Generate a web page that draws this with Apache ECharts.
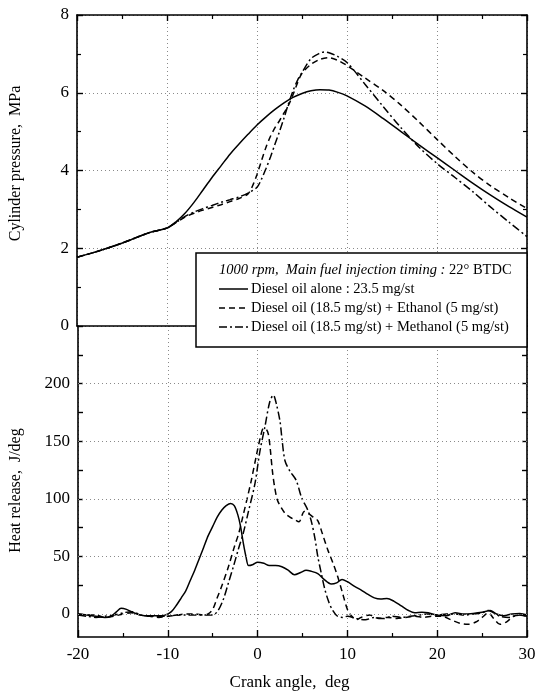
<!DOCTYPE html>
<html>
<head>
<meta charset="utf-8">
<script src="https://cdn.jsdelivr.net/npm/echarts@6/dist/echarts.min.js"></script>
<style>html,body{margin:0;padding:0;background:#fff;}#c{width:541px;height:693px;}</style>
</head>
<body>
<div id="c"></div>
<script>
// ---- Data (crank angle in deg) ----
const pressureDieselDeg = [-20,-18,-16,-14,-12,-10,-9,-8,-7,-6,-5,-4,-3,-2,-1,0,1,2,3,4,5,6,7,8,9,10,12,14,16,18,20,22,24,26,28,30];
const pressureDiesel    = [1.77,1.9,2.05,2.22,2.4,2.52,2.68,2.9,3.18,3.5,3.82,4.12,4.42,4.68,4.93,5.17,5.38,5.57,5.74,5.88,5.98,6.05,6.08,6.07,6.01,5.92,5.66,5.34,5.0,4.66,4.33,4.0,3.67,3.36,3.07,2.8];

const pressureEthanolDeg = [-20,-18,-16,-14,-12,-10,-9,-8,-7,-6,-5,-4,-3,-2,-1,-0.5,0,0.5,1,1.5,2,2.5,3,3.5,4,4.5,5,6,7,8,9,10,12,14,16,18,20,22,24,26,28,30];
const pressureEthanol    = [1.77,1.9,2.05,2.22,2.4,2.52,2.66,2.8,2.9,2.98,3.05,3.12,3.2,3.28,3.4,3.6,3.9,4.25,4.6,4.88,5.1,5.28,5.48,5.68,5.95,6.25,6.5,6.73,6.86,6.9,6.83,6.7,6.38,6.06,5.68,5.25,4.8,4.36,3.95,3.6,3.3,3.02];

const pressureMethanolDeg = [-20,-18,-16,-14,-12,-10,-9,-8,-7,-6,-5,-4,-3,-2,-1,0,0.5,1,1.5,2,2.5,3,3.5,4,4.5,5,6,7,7.5,8,9,10,12,14,16,18,20,22,24,26,28,30];
const pressureMethanol    = [1.77,1.9,2.05,2.22,2.4,2.52,2.66,2.82,2.93,3.02,3.1,3.18,3.25,3.32,3.42,3.57,3.78,4.05,4.35,4.68,5.0,5.35,5.72,6.05,6.32,6.52,6.88,7.02,7.05,7.03,6.93,6.78,6.22,5.65,5.1,4.6,4.18,3.82,3.45,3.05,2.67,2.3];

const heatDieselDeg = [-20,-19,-18,-17,-16.3,-15.7,-15.2,-14.6,-13.8,-13,-12,-11,-10.3,-9.6,-9,-8.5,-8,-7.5,-7,-6.5,-6,-5.5,-5,-4.5,-4,-3.5,-3,-2.6,-2.2,-1.9,-1.6,-1.3,-1,-0.5,0,0.7,1.3,2,2.7,3.4,4.1,4.8,5.4,6,6.7,7.4,8.2,8.8,9.4,10,10.8,11.5,12.3,13,13.7,14.4,15.2,16,16.8,17.5,18.3,19,20,21,22,23,24,25,25.9,26.6,27.4,28.3,29.2,30];
const heatDiesel    = [0,-1,-2,-3,-2,2,5,4,1,-1,-1.5,-1.5,-1,2,8,14,20,29,38,48,58,68,76,84,90,94,96,94,86,76,62,50,42,43,45,44,42,42,41,38,34,36,38,37,35,30,26,27,30,28,24,21,17,14,13,13.5,11,7,3,1,1.5,1,-1,-1.5,1,0,0.5,1.5,3,0,-1.5,0,0.5,-1];

const heatEthanolDeg = [-20,-19,-18,-17,-16,-15,-14,-13,-12,-11,-10,-9,-8,-7,-6,-5.5,-5,-4.5,-4,-3.25,-2.6,-2.1,-1.6,-1.2,-0.7,-0.1,0.3,0.65,1.0,1.2,1.4,1.65,1.9,2.2,2.65,3.1,3.6,4.1,4.6,5.2,5.7,6.2,6.7,7.2,7.8,8.4,8.9,9.5,10,10.5,11,11.5,12.5,13.5,14.5,15.5,16.5,17.5,18.5,19.5,20.5,21.5,22.5,23.4,24.3,25,25.7,26.3,27,27.7,28.5,29.3,30];
const heatEthanol    = [0,-1,-1,-3,-2,0,1,-1,-2,-3,-2,-1,0,0,-1,0,4,14,24,41,58,70,86,99,116,139,153,161,160,156,144,124,110,99,92,87,84,82,80,89,87,84,81,70,56,44,33,17,4,-2,-5,-3,-1,-4,-3,-4,-3,-2,-3,-2,-2,-5,-8,-9,-7,-3,1,-4,-9,-7,-2,-1,-2];

const heatMethanolDeg = [-20,-19,-18,-17,-16,-15,-14,-13,-12,-11,-10,-9,-8,-7,-6,-5,-4.4,-3.8,-3.25,-2.7,-2.15,-1.6,-1.05,-0.3,0.25,0.8,1.35,1.75,2.1,2.5,2.7,3.05,3.6,4.3,4.9,5.6,6.0,6.4,6.7,7.1,7.5,7.9,8.3,8.9,9.5,10,11,12,13,14,15,16,17,18,19,20,21,22,23,24,25,25.7,26.3,27,28,29,30];
const heatMethanol    = [-1,-2,-3,-2,-1,1,2,-1,-2,-2,-2,-1,-1,-1,-1,-1,3,13,27,41,56,70,88,113,141,162,184,190,182,167,153,133,124,116,101,90,80,65,50,35,21,11,4,-2,-3,-2,-4,-5,-3,-4,-2,-3,-2,-1,0,-1,0,0,-1,0,1,3,1,-2,-3,-1,-2];

const pressureTicks = [0, 2, 4, 6, 8];
const heatLabels = [0, 50, 100, 150, 200];
const heatTicks = [0, 25, 50, 75, 100, 125, 150, 175, 200, 225];
const angleTicks = [-20, -10, 0, 10, 20, 30];

const legendTitle = '1000 rpm,  Main fuel injection timing : ';
const legendTitle2 = '22° BTDC';
const seriesNames = ['Diesel oil alone : 23.5 mg/st', 'Diesel oil (18.5 mg/st) + Ethanol (5 mg/st)', 'Diesel oil (18.5 mg/st) + Methanol (5 mg/st)'];

// ---- Styles ----
const FONT = "'Liberation Serif', 'Times New Roman', serif";
const dashes = ['solid', [6, 4], [8, 3, 2, 3]];
const gridLine = { show: true, lineStyle: { color: '#8a8a8a', type: [1, 3], width: 1 } };
const axLine = { show: true, onZero: false, lineStyle: { color: '#000', width: 1.6 } };
const pair = (xs, ys) => xs.map((x, i) => [x, ys[i]]);

function mkSeries(name, xs, ys, idx, gi) {
  return {
    type: 'line', name: name, data: pair(xs, ys), showSymbol: false, symbol: 'none',
    xAxisIndex: gi === 0 ? 0 : 2, yAxisIndex: gi === 0 ? 0 : 2,
    smooth: 0.3, animation: false, silent: true,
    lineStyle: { color: '#000', width: 1.5, type: dashes[idx] }
  };
}

const chart = echarts.init(document.getElementById('c'), null, { renderer: 'canvas' });
const hrSolid = mkSeries(seriesNames[0], heatDieselDeg, heatDiesel, 0, 1);
hrSolid.markLine = {
  silent: true, symbol: ['none', 'none'], animation: false, label: { show: false },
  lineStyle: { color: '#8a8a8a', type: [1, 3], width: 1 },
  data: heatLabels.map(v => ({ yAxis: v }))
};

const ZL = 200;
const option = {
  backgroundColor: '#fff',
  animation: false,
  textStyle: { fontFamily: FONT, color: '#000' },
  grid: [
    { left: 76, right: 14, top: 15, height: 311 },
    { left: 76, right: 14, top: 326, height: 311 }
  ],
  xAxis: [
    { type: 'value', gridIndex: 0, min: -20, max: 30, interval: 10, position: 'bottom',
      axisLine: axLine, axisTick: { show: false }, axisLabel: { show: false }, splitLine: gridLine },
    { type: 'value', gridIndex: 0, min: -20, max: 30, interval: 10, position: 'top',
      axisLine: axLine, axisTick: { show: true, inside: true, length: 6, lineStyle: { color: '#000', width: 1.4 } },
      minorTick: { show: true, splitNumber: 2, length: 4, lineStyle: { color: '#000', width: 1.2 } },
      axisLabel: { show: false }, splitLine: { show: false } },
    { type: 'value', gridIndex: 1, min: -20, max: 30, interval: 10, position: 'bottom',
      axisLine: axLine, axisTick: { show: true, inside: true, length: 7, lineStyle: { color: '#000', width: 1.4 } },
      minorTick: { show: true, splitNumber: 2, length: 4, lineStyle: { color: '#000', width: 1.2 } },
      axisLabel: { show: true, color: '#000', fontSize: 17, fontFamily: FONT, margin: 9, customValues: angleTicks },
      splitLine: gridLine,
      name: 'Crank angle,  deg', nameLocation: 'middle', nameGap: 37,
      nameTextStyle: { fontSize: 17, fontFamily: FONT, color: '#000', padding: [0, 26, 0, 0] } }
  ],
  yAxis: [
    { type: 'value', gridIndex: 0, min: 0, max: 8, interval: 2, position: 'left',
      axisLine: axLine, axisTick: { show: true, inside: true, length: 6, lineStyle: { color: '#000', width: 1.4 } },
      minorTick: { show: true, splitNumber: 2, length: 4, lineStyle: { color: '#000', width: 1.2 } },
      axisLabel: { show: true, color: '#000', fontSize: 17, fontFamily: FONT, margin: 8, customValues: pressureTicks },
      splitLine: gridLine,
      name: 'Cylinder pressure,  MPa', nameLocation: 'middle', nameGap: 53, nameRotate: 90,
      nameTextStyle: { fontSize: 16, fontFamily: FONT, color: '#000', padding: [0, 0, 0, 14] } },
    { type: 'value', gridIndex: 0, min: 0, max: 8, interval: 2, position: 'right',
      axisLine: axLine, axisTick: { show: true, inside: true, length: 6, lineStyle: { color: '#000', width: 1.4 } },
      minorTick: { show: true, splitNumber: 2, length: 4, lineStyle: { color: '#000', width: 1.2 } },
      axisLabel: { show: false }, splitLine: { show: false } },
    { type: 'value', gridIndex: 1, min: -20, max: 250, position: 'left',
      axisLine: axLine,
      axisTick: { show: true, inside: true, length: 5, customValues: heatTicks, lineStyle: { color: '#000', width: 1.4 } },
      axisLabel: { show: true, color: '#000', fontSize: 17, fontFamily: FONT, margin: 8, customValues: heatLabels },
      splitLine: { show: false },
      name: 'Heat release,  J/deg', nameLocation: 'middle', nameGap: 54, nameRotate: 90,
      nameTextStyle: { fontSize: 16, fontFamily: FONT, color: '#000', padding: [0, 18, 0, 0] } },
    { type: 'value', gridIndex: 1, min: -20, max: 250, position: 'right',
      axisLine: axLine,
      axisTick: { show: true, inside: true, length: 5, customValues: heatTicks, lineStyle: { color: '#000', width: 1.4 } },
      axisLabel: { show: false }, splitLine: { show: false } }
  ],
  series: [
    mkSeries(seriesNames[0], pressureDieselDeg, pressureDiesel, 0, 0),
    mkSeries(seriesNames[1], pressureEthanolDeg, pressureEthanol, 1, 0),
    mkSeries(seriesNames[2], pressureMethanolDeg, pressureMethanol, 2, 0),
    hrSolid,
    mkSeries(seriesNames[1], heatEthanolDeg, heatEthanol, 1, 1),
    mkSeries(seriesNames[2], heatMethanolDeg, heatMethanol, 2, 1)
  ],
  graphic: [
    { type: 'rect', z: ZL, zlevel: 1, shape: { x: 196, y: 253, width: 331, height: 94 },
      style: { fill: '#fff', stroke: '#000', lineWidth: 1.5 } },
    { type: 'text', z: ZL + 1, zlevel: 1, x: 219, y: 270,
      style: { text: '{i|' + legendTitle + '}{n|' + legendTitle2 + '}', verticalAlign: 'middle',
        rich: { i: { fontFamily: FONT, fontStyle: 'italic', fontSize: 14.5, fill: '#000' },
                n: { fontFamily: FONT, fontSize: 14.5, fill: '#000' } } } },
    { type: 'line', z: ZL + 1, zlevel: 1, shape: { x1: 219, y1: 289, x2: 248, y2: 289 }, style: { stroke: '#000', lineWidth: 1.5 } },
    { type: 'line', z: ZL + 1, zlevel: 1, shape: { x1: 219, y1: 308, x2: 248, y2: 308 }, style: { stroke: '#000', lineWidth: 1.5, lineDash: [6, 4] } },
    { type: 'line', z: ZL + 1, zlevel: 1, shape: { x1: 219, y1: 327, x2: 248, y2: 327 }, style: { stroke: '#000', lineWidth: 1.5, lineDash: [8, 3, 2, 3] } },
    { type: 'text', z: ZL + 1, zlevel: 1, x: 251, y: 289, style: { text: seriesNames[0], verticalAlign: 'middle', fontFamily: FONT, fontSize: 14.5, fill: '#000' } },
    { type: 'text', z: ZL + 1, zlevel: 1, x: 251, y: 308, style: { text: seriesNames[1], verticalAlign: 'middle', fontFamily: FONT, fontSize: 14.5, fill: '#000' } },
    { type: 'text', z: ZL + 1, zlevel: 1, x: 251, y: 327, style: { text: seriesNames[2], verticalAlign: 'middle', fontFamily: FONT, fontSize: 14.5, fill: '#000' } }
  ]
};
chart.setOption(option);
</script>
</body>
</html>
